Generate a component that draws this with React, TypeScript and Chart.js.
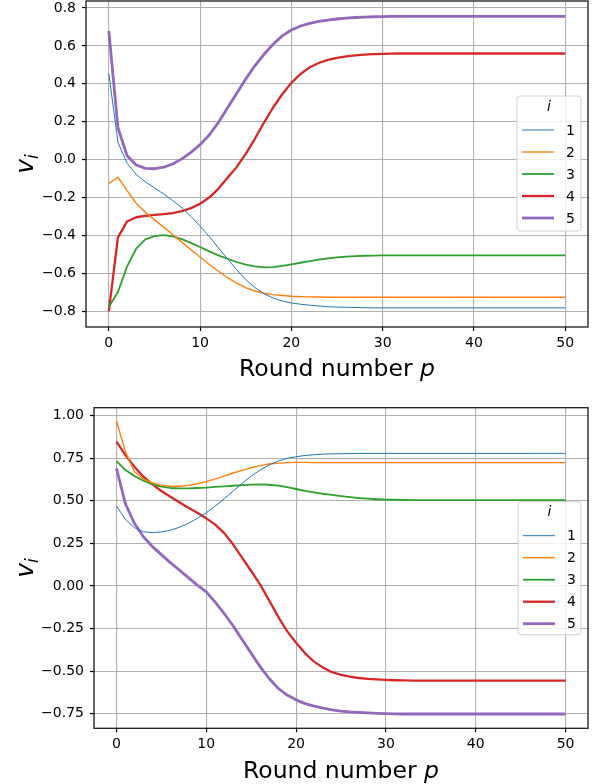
import React, { useEffect, useRef } from "react";
import { Chart, registerables } from "chart.js";

Chart.register(...registerables);

// ---------- data ----------
const ROUNDS = [
  0, 1, 2, 3, 4, 5, 6, 7, 8, 9, 10, 11, 12, 13, 14, 15, 16, 17, 18, 19, 20, 21, 22, 23, 24, 25,
  26, 27, 28, 29, 30, 31, 32, 33, 34, 35, 36, 37, 38, 39, 40, 41, 42, 43, 44, 45, 46, 47, 48, 49, 50,
];

const SERIES_NAMES = ["1", "2", "3", "4", "5"];

const X_TICKS = [0, 10, 20, 30, 40, 50];
const X_TICK_LABELS = ["0", "10", "20", "30", "40", "50"];

const TOP_Y_TICKS = [-0.8, -0.6, -0.4, -0.2, 0, 0.2, 0.4, 0.6, 0.8];
const TOP_Y_TICK_LABELS = ["\u22120.8", "\u22120.6", "\u22120.4", "\u22120.2", "0.0", "0.2", "0.4", "0.6", "0.8"];

const BOT_Y_TICKS = [-0.75, -0.5, -0.25, 0, 0.25, 0.5, 0.75, 1.0];
const BOT_Y_TICK_LABELS = ["\u22120.75", "\u22120.50", "\u22120.25", "0.00", "0.25", "0.50", "0.75", "1.00"];

// top panel
const TOP_V1 = [
  0.454, 0.091, -0.019, -0.078, -0.117, -0.149, -0.181, -0.216, -0.254, -0.3, -0.351, -0.405, -0.465,
  -0.523, -0.581, -0.633, -0.675, -0.707, -0.73, -0.746, -0.756, -0.763, -0.768, -0.772, -0.776, -0.778,
  -0.779, -0.78, -0.781, -0.782, -0.782, -0.782, -0.782, -0.782, -0.782, -0.782, -0.782, -0.782, -0.782,
  -0.782, -0.782, -0.782, -0.782, -0.782, -0.782, -0.782, -0.782, -0.782, -0.782, -0.782, -0.782,
];
const TOP_V2 = [
  -0.125, -0.093, -0.163, -0.23, -0.277, -0.318, -0.356, -0.395, -0.435, -0.475, -0.514, -0.553, -0.589,
  -0.623, -0.651, -0.675, -0.693, -0.705, -0.712, -0.717, -0.721, -0.723, -0.724, -0.725, -0.726, -0.726,
  -0.726, -0.726, -0.726, -0.726, -0.726, -0.726, -0.726, -0.726, -0.726, -0.726, -0.726, -0.726, -0.726,
  -0.726, -0.726, -0.726, -0.726, -0.726, -0.726, -0.726, -0.726, -0.726, -0.726, -0.726, -0.726,
];
const TOP_V3 = [
  -0.777, -0.698, -0.563, -0.47, -0.421, -0.404, -0.398, -0.405, -0.419, -0.439, -0.461, -0.484, -0.505,
  -0.523, -0.54, -0.554, -0.563, -0.568, -0.567, -0.561, -0.553, -0.544, -0.536, -0.528, -0.521, -0.516,
  -0.512, -0.509, -0.507, -0.506, -0.505, -0.505, -0.505, -0.505, -0.505, -0.505, -0.505, -0.505, -0.505,
  -0.505, -0.505, -0.505, -0.505, -0.505, -0.505, -0.505, -0.505, -0.505, -0.505, -0.505, -0.505,
];
const TOP_V4 = [
  -0.8, -0.41, -0.326, -0.304, -0.297, -0.291, -0.288, -0.282, -0.272, -0.256, -0.233, -0.2, -0.154,
  -0.096, -0.04, 0.03, 0.11, 0.195, 0.275, 0.345, 0.405, 0.452, 0.487, 0.51, 0.526, 0.537, 0.545, 0.55,
  0.554, 0.557, 0.558, 0.559, 0.56, 0.56, 0.56, 0.56, 0.56, 0.56, 0.56, 0.56, 0.56, 0.56, 0.56, 0.56,
  0.56, 0.56, 0.56, 0.56, 0.56, 0.56, 0.56,
];
const TOP_V5 = [
  0.679, 0.168, 0.021, -0.028, -0.046, -0.048, -0.04, -0.023, 0.004, 0.038, 0.079, 0.13, 0.196, 0.272,
  0.349, 0.425, 0.495, 0.556, 0.609, 0.653, 0.684, 0.705, 0.719, 0.729, 0.736, 0.742, 0.747, 0.75, 0.752,
  0.754, 0.755, 0.756, 0.756, 0.756, 0.756, 0.756, 0.756, 0.756, 0.756, 0.756, 0.756, 0.756, 0.756,
  0.756, 0.756, 0.756, 0.756, 0.756, 0.756, 0.756, 0.756,
];

// bottom panel
const BOT_V1 = [
  0.469, 0.391, 0.342, 0.318, 0.313, 0.317, 0.327, 0.344, 0.368, 0.397, 0.43, 0.469, 0.512, 0.557, 0.602,
  0.645, 0.68, 0.71, 0.733, 0.749, 0.758, 0.766, 0.77, 0.773, 0.775, 0.776, 0.777, 0.778, 0.778, 0.778,
  0.778, 0.778, 0.778, 0.778, 0.778, 0.778, 0.778, 0.778, 0.778, 0.778, 0.778, 0.778, 0.778, 0.778,
  0.778, 0.778, 0.778, 0.778, 0.778, 0.778, 0.778,
];
const BOT_V2 = [
  0.968, 0.788, 0.67, 0.628, 0.604, 0.592, 0.585, 0.585, 0.59, 0.6, 0.612, 0.628, 0.645, 0.663, 0.678,
  0.694, 0.706, 0.716, 0.721, 0.724, 0.725, 0.725, 0.724, 0.724, 0.724, 0.724, 0.724, 0.724, 0.724,
  0.724, 0.724, 0.724, 0.724, 0.724, 0.724, 0.724, 0.724, 0.724, 0.724, 0.724, 0.724, 0.724, 0.724,
  0.724, 0.724, 0.724, 0.724, 0.724, 0.724, 0.724, 0.724,
];
const BOT_V3 = [
  0.733, 0.68, 0.645, 0.618, 0.596, 0.583, 0.575, 0.573, 0.573, 0.575, 0.577, 0.581, 0.585, 0.588, 0.592,
  0.595, 0.596, 0.594, 0.589, 0.58, 0.569, 0.558, 0.549, 0.541, 0.534, 0.527, 0.521, 0.516, 0.512, 0.509,
  0.507, 0.506, 0.505, 0.504, 0.504, 0.504, 0.504, 0.504, 0.504, 0.504, 0.504, 0.504, 0.504, 0.504,
  0.504, 0.504, 0.504, 0.504, 0.504, 0.504, 0.504,
];
const BOT_V4 = [
  0.847, 0.768, 0.7, 0.641, 0.596, 0.557, 0.524, 0.491, 0.459, 0.43, 0.397, 0.36, 0.31, 0.243, 0.165,
  0.088, 0.008, -0.085, -0.18, -0.265, -0.333, -0.395, -0.444, -0.479, -0.506, -0.522, -0.532, -0.54,
  -0.545, -0.548, -0.551, -0.553, -0.554, -0.555, -0.555, -0.555, -0.555, -0.555, -0.555, -0.555, -0.555,
  -0.555, -0.555, -0.555, -0.555, -0.555, -0.555, -0.555, -0.555, -0.555, -0.555,
];
const BOT_V5 = [
  0.69, 0.482, 0.368, 0.289, 0.231, 0.184, 0.137, 0.094, 0.049, 0.005, -0.035, -0.095, -0.163, -0.235,
  -0.315, -0.395, -0.473, -0.543, -0.6, -0.64, -0.668, -0.69, -0.705, -0.717, -0.727, -0.734, -0.739,
  -0.742, -0.745, -0.747, -0.749, -0.75, -0.751, -0.751, -0.751, -0.751, -0.751, -0.751, -0.751, -0.751,
  -0.751, -0.751, -0.751, -0.751, -0.751, -0.751, -0.751, -0.751, -0.751, -0.751, -0.751,
];

// ---------- styles ----------
const COLORS = ["#1f77b4", "#ff7f0e", "#2ca02c", "#d62728", "#9467bd"];
const WIDTHS = [1, 1.4, 1.8, 2.3, 2.8];
const FONT = '"DejaVu Sans", "Liberation Sans", sans-serif';

type Panel = {
  top: number;
  height: number;
  area: { left: number; right: number; top: number; bottom: number };
  yMin: number;
  yMax: number;
  yTicks: number[];
  yLabels: string[];
  series: number[][];
  xTitleBaseline: number;
  yTitleX: number;
  legend: { x: number; y: number; w: number; h: number };
};

const W = 597;

const PANELS: Panel[] = [
  {
    top: 0,
    height: 392,
    area: { left: 86, right: 588, top: 1, bottom: 327 },
    yMin: -0.883,
    yMax: 0.837,
    yTicks: TOP_Y_TICKS,
    yLabels: TOP_Y_TICK_LABELS,
    series: [TOP_V1, TOP_V2, TOP_V3, TOP_V4, TOP_V5],
    xTitleBaseline: 376,
    yTitleX: 33,
    legend: { x: 517, y: 96, w: 64, h: 135 },
  },
  {
    top: 392,
    height: 392,
    area: { left: 94, right: 588, top: 15.7, bottom: 336.3 },
    yMin: -0.835,
    yMax: 1.046,
    yTicks: BOT_Y_TICKS,
    yLabels: BOT_Y_TICK_LABELS,
    series: [BOT_V1, BOT_V2, BOT_V3, BOT_V4, BOT_V5],
    xTitleBaseline: 386,
    yTitleX: 33,
    legend: { x: 518, y: 109.7, w: 63, h: 133 },
  },
];

function makePlugin(p: Panel) {
  return {
    id: "decor",
    afterDatasetsDraw(chart: any) {
      const ctx: CanvasRenderingContext2D = chart.ctx;
      const a = chart.chartArea;
      // frame (spines)
      ctx.save();
      ctx.strokeStyle = "#1a1a1a";
      ctx.lineWidth = 1.3;
      ctx.strokeRect(a.left, a.top, a.right - a.left, a.bottom - a.top);
      ctx.restore();

      // legend
      const lg = p.legend;
      ctx.save();
      const r = 3;
      ctx.beginPath();
      ctx.moveTo(lg.x + r, lg.y);
      ctx.lineTo(lg.x + lg.w - r, lg.y);
      ctx.quadraticCurveTo(lg.x + lg.w, lg.y, lg.x + lg.w, lg.y + r);
      ctx.lineTo(lg.x + lg.w, lg.y + lg.h - r);
      ctx.quadraticCurveTo(lg.x + lg.w, lg.y + lg.h, lg.x + lg.w - r, lg.y + lg.h);
      ctx.lineTo(lg.x + r, lg.y + lg.h);
      ctx.quadraticCurveTo(lg.x, lg.y + lg.h, lg.x, lg.y + lg.h - r);
      ctx.lineTo(lg.x, lg.y + r);
      ctx.quadraticCurveTo(lg.x, lg.y, lg.x + r, lg.y);
      ctx.closePath();
      ctx.fillStyle = "rgba(255,255,255,0.8)";
      ctx.fill();
      ctx.strokeStyle = "#d0d0d0";
      ctx.lineWidth = 1;
      ctx.stroke();

      ctx.fillStyle = "#000";
      ctx.textBaseline = "middle";
      ctx.textAlign = "center";
      ctx.font = `italic 14px ${FONT}`;
      ctx.fillText("i", lg.x + lg.w / 2, lg.y + 11);
      ctx.textAlign = "left";
      ctx.font = `14px ${FONT}`;
      SERIES_NAMES.forEach((name, i) => {
        const yy = lg.y + 34 + i * 22;
        ctx.strokeStyle = COLORS[i];
        ctx.lineWidth = WIDTHS[i];
        ctx.beginPath();
        ctx.moveTo(lg.x + 5, yy);
        ctx.lineTo(lg.x + 37, yy);
        ctx.stroke();
        ctx.fillText(name, lg.x + 49, yy + 1);
      });
      ctx.restore();
    },
    afterDraw(chart: any) {
      const ctx: CanvasRenderingContext2D = chart.ctx;
      const a = chart.chartArea;
      ctx.save();
      ctx.fillStyle = "#000";
      ctx.textBaseline = "alphabetic";
      ctx.textAlign = "left";
      // x title
      const fs = 23.5;
      ctx.font = `${fs}px ${FONT}`;
      const t1 = "Round number ";
      const w1 = ctx.measureText(t1).width;
      ctx.font = `italic ${fs}px ${FONT}`;
      const w2 = ctx.measureText("p").width;
      const cx = (a.left + a.right) / 2;
      const x0 = cx - (w1 + w2) / 2;
      ctx.font = `${fs}px ${FONT}`;
      ctx.fillText(t1, x0, p.xTitleBaseline);
      ctx.font = `italic ${fs}px ${FONT}`;
      ctx.fillText("p", x0 + w1, p.xTitleBaseline);

      // y title v_i
      const cy = (a.top + a.bottom) / 2;
      ctx.translate(p.yTitleX, cy);
      ctx.rotate(-Math.PI / 2);
      ctx.font = `italic 25px ${FONT}`;
      const wv = ctx.measureText("v").width;
      ctx.font = `italic 17px ${FONT}`;
      const wi = ctx.measureText("i").width;
      const tot = wv + wi;
      ctx.font = `italic 25px ${FONT}`;
      ctx.fillText("v", -tot / 2, 0);
      ctx.font = `italic 17px ${FONT}`;
      ctx.fillText("i", -tot / 2 + wv, 5);
      ctx.restore();
    },
  };
}

function PanelChart({ p }: { p: Panel }) {
  const ref = useRef<HTMLCanvasElement>(null);
  useEffect(() => {
    const canvas = ref.current!;
    const datasets = p.series.map((vals, i) => ({
      label: SERIES_NAMES[i],
      data: ROUNDS.map((r, k) => ({ x: r, y: vals[k] })),
      borderColor: COLORS[i],
      backgroundColor: COLORS[i],
      borderWidth: WIDTHS[i],
      pointRadius: 0,
      tension: 0,
      borderJoinStyle: "round" as const,
      fill: false,
    }));
    const chart = new Chart(canvas, {
      type: "line",
      data: { datasets },
      options: {
        animation: false,
        responsive: false,
        devicePixelRatio: 1,
        events: [],
        layout: {
          padding: { left: 0, top: p.area.top, right: W - p.area.right, bottom: 0 },
        },
        plugins: { legend: { display: false }, tooltip: { enabled: false } },
        scales: {
          x: {
            type: "linear",
            min: -2.5,
            max: 52.5,
            border: { display: false },
            grid: {
              color: "#b0b0b0",
              lineWidth: 1.1,
              tickColor: "#000",
              tickLength: 4,
              tickWidth: 1.2,
              drawTicks: true,
            },
            ticks: {
              autoSkip: false,
              maxRotation: 0,
              padding: 4,
              color: "#000",
              font: { family: FONT, size: 14 },
              callback: (v: any) => {
                const idx = X_TICKS.indexOf(Number(v));
                return idx >= 0 ? X_TICK_LABELS[idx] : "";
              },
            },
            afterBuildTicks: (s: any) => {
              s.ticks = X_TICKS.map((v) => ({ value: v }));
            },
            afterFit: (s: any) => {
              s.height = p.height - p.area.bottom;
              s.paddingLeft = 0;
              s.paddingRight = 0;
            },
          },
          y: {
            type: "linear",
            min: p.yMin,
            max: p.yMax,
            border: { display: false },
            grid: {
              color: "#b0b0b0",
              lineWidth: 1.1,
              tickColor: "#000",
              tickLength: 4,
              tickWidth: 1.2,
              drawTicks: true,
            },
            ticks: {
              autoSkip: false,
              padding: 6,
              color: "#000",
              font: { family: FONT, size: 14 },
              callback: (v: any) => {
                const idx = p.yTicks.findIndex((t) => Math.abs(t - Number(v)) < 1e-9);
                return idx >= 0 ? p.yLabels[idx] : "";
              },
            },
            afterBuildTicks: (s: any) => {
              s.ticks = p.yTicks.map((v) => ({ value: v }));
            },
            afterFit: (s: any) => {
              s.width = p.area.left;
              s.paddingTop = 0;
              s.paddingBottom = 0;
            },
          },
        },
      },
      plugins: [makePlugin(p)],
    } as any);
    return () => chart.destroy();
  }, [p]);
  return (
    <canvas
      ref={ref}
      width={W}
      height={p.height}
      style={{ position: "absolute", left: 0, top: p.top, width: W, height: p.height, display: "block" }}
    />
  );
}

export default function App() {
  return (
    <div style={{ position: "absolute", left: 0, top: 0, width: W, height: 784, background: "#fff" }}>
      {PANELS.map((p, i) => (
        <PanelChart key={i} p={p} />
      ))}
    </div>
  );
}
